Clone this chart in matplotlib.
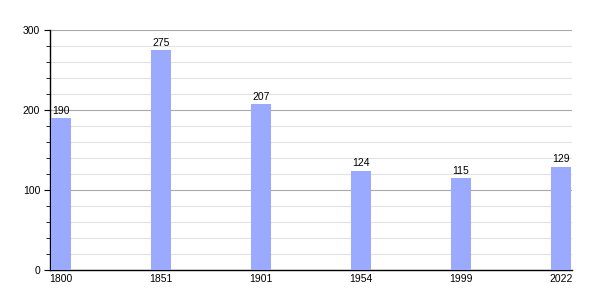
import numpy as np
import matplotlib.pyplot as plt
from matplotlib.ticker import MultipleLocator

years = ['1800', '1851', '1901', '1954', '1999', '2022']
population = [190, 275, 207, 124, 115, 129]

plt.rcParams['font.family'] = ['Liberation Sans', 'DejaVu Sans']

fig = plt.figure(figsize=(6, 3), dpi=100)
ax = fig.add_axes([50 / 600, 30 / 300, 522 / 600, 240 / 300])

x = np.arange(len(years))
bars = ax.bar(x, population, width=0.2, color='#99aaff', zorder=3)

for xi, v in zip(x, population):
    ax.text(xi, v + 3, str(v), ha='center', va='bottom', fontsize=7.5, zorder=4)

ax.set_xlim(-0.11, 5.11)
ax.set_ylim(0, 300)
ax.set_xticks(x)
ax.set_xticklabels(years)
ax.yaxis.set_major_locator(MultipleLocator(100))
ax.yaxis.set_minor_locator(MultipleLocator(20))

# grid: darker at hundreds, pale every 20
ax.grid(axis='y', which='major', color='#a8a8a8', linewidth=0.8, zorder=0)
ax.grid(axis='y', which='minor', color='#e2e2e2', linewidth=0.8, zorder=0)

ax.spines['top'].set_visible(False)
ax.spines['right'].set_visible(False)
ax.spines['left'].set_linewidth(1)
ax.spines['bottom'].set_linewidth(1)
ax.tick_params(axis='x', length=0, pad=3, labelsize=7.5)
ax.tick_params(axis='y', which='major', length=4, pad=3, labelsize=7.5)
ax.tick_params(axis='y', which='minor', length=3)

fig.savefig('out.png', dpi=100)
